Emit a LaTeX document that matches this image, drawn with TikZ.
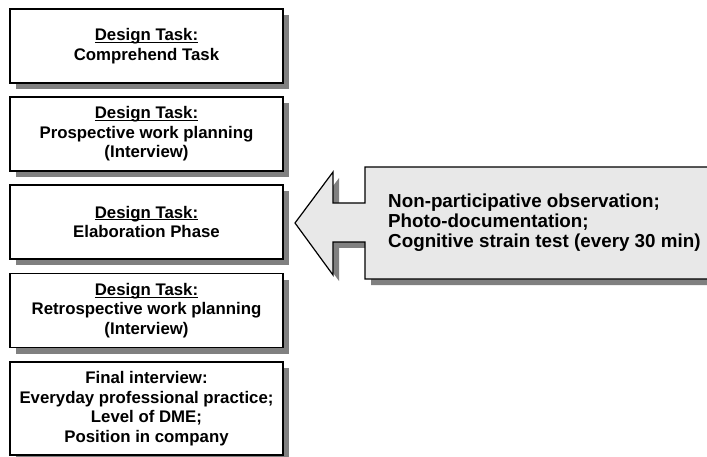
\documentclass[tikz,border=0pt]{standalone}
\usepackage{fontspec}
\setmainfont{Liberation Sans}
\usetikzlibrary{shadows}

\definecolor{shadowgray}{RGB}{128,128,128}
\definecolor{calloutfill}{RGB}{232,232,232}

% underline that sits close to the baseline
\newcommand{\taskhead}[1]{\underline{\smash{#1}}\vphantom{#1}}

\tikzset{
  stagebox/.style={draw, line width=1.2pt, fill=white, inner sep=0pt,
    minimum width=273pt, minimum height=74pt, align=center,
    font=\fontsize{16.8}{19.5}\selectfont\bfseries,
    drop shadow={shadow xshift=6pt, shadow yshift=-6pt, fill=shadowgray, opacity=1}},
  callouttext/.style={inner sep=0pt, align=left, anchor=west,
    font=\fontsize{18.8}{20}\selectfont\bfseries}
}

\begin{document}
\begin{tikzpicture}[x=1pt, y=-1pt]
            \useasboundingbox (0, 0) rectangle (707, 457);

            \clip (0, 0) rectangle (707, 457);

            % stages of the study
            \node[stagebox] (comprehend) at (146.5, 46) {\taskhead{Design Task:}\\Comprehend Task};

            \node[stagebox] (prospective) at (146.5, 134) {\taskhead{Design Task:}\\Prospective work planning\\(Interview)};

            \node[stagebox] (elaboration) at (146.5, 222) {\taskhead{Design Task:}\\Elaboration Phase};

            \node[stagebox] (retrospective) at (146.5, 310.5) {\taskhead{Design Task:}\\Retrospective work planning\\(Interview)};

            \node[stagebox, minimum height=93pt] (final) at (146.5, 408.5) {Final interview:\\Everyday professional practice;\\Level of DME;\\Position in company};

            % callout pointing at the elaboration phase
            \fill[shadowgray, shift={(6, 6)}] (365, 167) -- (730, 167) -- (730, 279) -- (365, 279) -- (365, 242) -- (333, 242) -- (333, 275) -- (295, 223) -- (333, 172) -- (333, 203) -- (365, 203) -- cycle;

            \draw[line width=1.2pt, fill=calloutfill] (365, 167) -- (730, 167) -- (730, 279) -- (365, 279) -- (365, 242) -- (333, 242) -- (333, 275) -- (295, 223) -- (333, 172) -- (333, 203) -- (365, 203) -- cycle;

            \node[callouttext] (methods) at (388, 223) {Non-participative observation;\\Photo-documentation;\\Cognitive strain test (every 30 min)};
        \end{tikzpicture}
\end{document}
